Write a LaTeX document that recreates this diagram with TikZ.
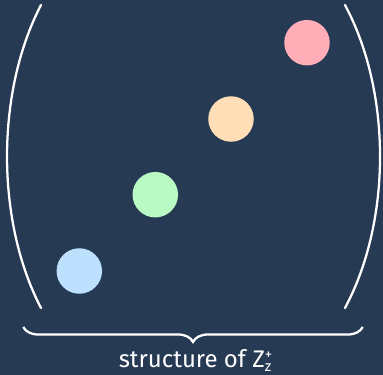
\documentclass[tikz,border=0pt]{standalone}
\usepackage{amsmath}
\usepackage{fontspec}
\setmainfont{Fira Sans}
\usetikzlibrary{decorations.pathreplacing}
\definecolor{bgc}{HTML}{263A53}
\definecolor{cblue}{HTML}{BDE0FE}
\definecolor{cgreen}{HTML}{B9FAC4}
\definecolor{corange}{HTML}{FFDDB7}
\definecolor{cpink}{HTML}{FFADB7}
\newcommand{\supsub}[2]{\raisebox{-3.6pt}{\fontsize{11}{11}\selectfont\shortstack[l]{#1\\[0.6pt]#2}}}
\tikzset{
  dot/.style={circle, minimum size=45.5*0.75pt, inner sep=0pt, draw=none},
  paren/.style={white, line width=1.7pt, line cap=round},
  lbl/.style={white, font=\fontsize{18}{21}\selectfont, inner sep=0pt, anchor=base}
}
\begin{document}
\begin{tikzpicture}[x=0.75pt, y=-0.75pt]
  \fill[bgc] (0,0) rectangle (383,375);
  \useasboundingbox (0,0) rectangle (383,375);
  \node[dot, fill=cblue]   (b) at (79.3,271) {};
  \node[dot, fill=cgreen]  (g) at (155.3,194.7) {};
  \node[dot, fill=corange] (o) at (231,119) {};
  \node[dot, fill=cpink]   (p) at (307,42.7) {};
  \coordinate (lt) at (41,5);
  \coordinate (lb) at (41,308);
  \coordinate (rt) at (345,5);
  \coordinate (rb) at (345,308);
  \draw[paren] (lt) .. controls (-4.3,92) and (-4.3,221) .. (lb);
  \draw[paren] (rt) .. controls (391.7,92) and (391.7,221) .. (rb);
  \coordinate (bl) at (23.3,327);
  \coordinate (br) at (362.7,327);
  \draw[white, line width=1.7pt, decorate, decoration={brace, mirror, amplitude=11.25pt}] (bl) -- (br);
  \node[lbl] (t) at (195.5,367) {structure of Z\supsub{+}{z}};
\end{tikzpicture}
\end{document}
